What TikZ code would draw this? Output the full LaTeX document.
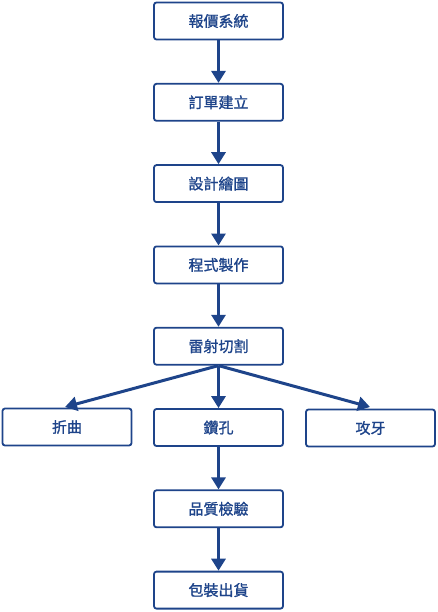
\documentclass[tikz,border=0pt]{standalone}
\usepackage{fontspec}
\newfontfamily\cjk[FakeBold=1.2]{Noto Sans CJK TC}
\usetikzlibrary{arrows.meta,positioning}
\definecolor{flowblue}{RGB}{30,68,138}

\begin{document}
\begin{tikzpicture}[x=1pt,y=-1pt, node distance=42.5pt,
  box/.style={draw=flowblue, line width=1.8pt, rounded corners=2.5pt, fill=white,
    minimum width=129pt, minimum height=37pt, text=flowblue, font=\cjk\fontsize{15}{17}\selectfont},
  flow/.style={draw=flowblue, line width=3pt, -{Triangle[length=12pt,width=14pt]}}]
\useasboundingbox (0,0) rectangle (438,612);
\node[box] (quote) at (218.5,21) {報價系統};
\node[box, below=of quote] (order) {訂單建立};
\node[box, below=of order] (design) {設計繪圖};
\node[box, below=of design] (program) {程式製作};
\node[box, below=of program] (laser) {雷射切割};
\node[box, below=of laser] (drill) {鑽孔};
\node[box] (bend) at (67,427) {折曲};
\node[box] (tap) at (370.5,428) {攻牙};
\node[box, below=of drill] (check) {品質檢驗};
\node[box, below=of check] (ship) {包裝出貨};
\coordinate (bendtip) at (65,407);
\coordinate (taptip) at (370,407);
\draw[flow] (quote) -- (order);
\draw[flow] (order) -- (design);
\draw[flow] (design) -- (program);
\draw[flow] (program) -- (laser);
\draw[flow] (laser.south) -- (drill);
\draw[flow] (laser.south) -- (bendtip);
\draw[flow] (laser.south) -- (taptip);
\draw[flow] (drill) -- (check);
\draw[flow] (check) -- (ship);
\end{tikzpicture}
\end{document}
